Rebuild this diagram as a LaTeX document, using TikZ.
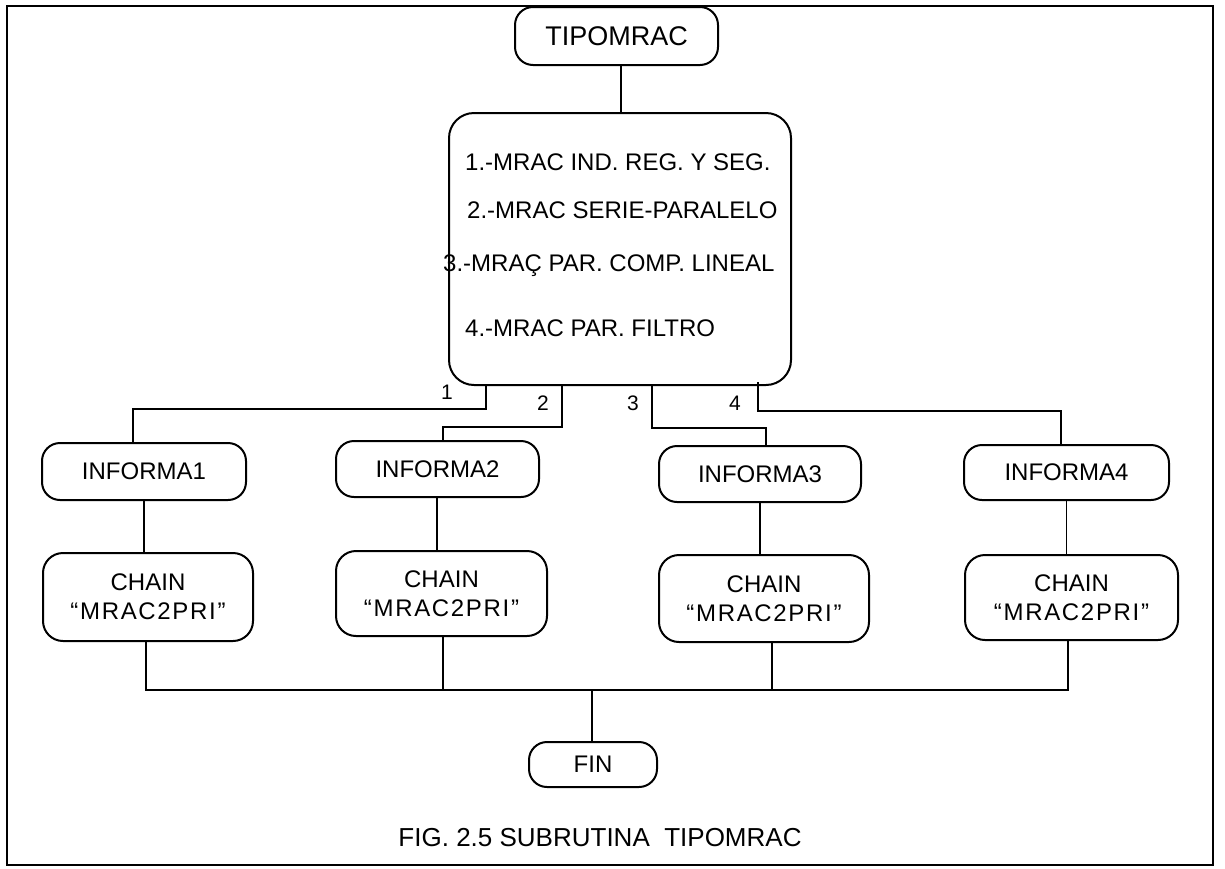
\documentclass[tikz,border=0pt]{standalone}
\usepackage{fontspec}
\setmainfont{Liberation Sans}
\newfontfamily\spacedfont[LetterSpace=7]{Liberation Sans}
\begin{document}
\begin{tikzpicture}[x=1pt,y=-1pt,
  box/.style={draw,line width=2pt,rounded corners=#1,inner sep=0pt,align=center},
  box/.default=18pt,
  link/.style={line width=1.6pt},
  lbl/.style={inner sep=0pt,font=\fontsize{21}{25}\selectfont},
  item/.style={anchor=base west,inner sep=0pt,font=\fontsize{24}{28}\selectfont},
  txt/.style={font=\fontsize{24}{29}\selectfont}]
\useasboundingbox (0,0) rectangle (1225,868);

% outer frame
\draw[line width=2.6pt] (7,6) rectangle (1213,865);

% top node and menu
\node[box,minimum width=203pt,minimum height=58pt,font=\fontsize{27}{32}\selectfont]
  (tip) at (616.5,36) {TIPOMRAC};
\node[box=25pt,minimum width=342pt,minimum height=272pt] (menu) at (620,249) {};
\node[item] (m1) at (465,170) {1.-MRAC IND. REG. Y SEG.};
\node[item] (m2) at (467,218.5) {2.-MRAC SERIE-PARALELO};
\node[item] (m3) at (443,271.5) {3.-MRAÇ PAR. COMP. LINEAL};
\node[item] (m4) at (465,336.5) {4.-MRAC PAR. FILTRO};

% report nodes
\node[box,txt,minimum width=204pt,minimum height=57pt] (i1) at (144,471.5) {INFORMA1};
\node[box,txt,minimum width=203pt,minimum height=56pt] (i2) at (437.5,469) {INFORMA2};
\node[box,txt,minimum width=202pt,minimum height=56pt] (i3) at (760,474) {INFORMA3};
\node[box,txt,minimum width=205pt,minimum height=55pt] (i4) at (1066.5,472.5) {INFORMA4};

% chain nodes
\node[box=20pt,txt,minimum width=210pt,minimum height=88pt] (c1) at (148,597) {CHAIN\\{\spacedfont “MRAC2PRI”}};
\node[box=20pt,txt,minimum width=211pt,minimum height=85pt] (c2) at (441.5,593.5) {CHAIN\\{\spacedfont “MRAC2PRI”}};
\node[box=20pt,txt,minimum width=210pt,minimum height=87pt] (c3) at (764,598.5) {CHAIN\\{\spacedfont “MRAC2PRI”}};
\node[box=20pt,txt,minimum width=213pt,minimum height=85pt] (c4) at (1071.5,597.5) {CHAIN\\{\spacedfont “MRAC2PRI”}};

% end node and caption
\node[box,txt,minimum width=128pt,minimum height=45pt] (fin) at (593,764.5) {FIN};
\node[inner sep=0pt,font=\fontsize{26}{30}\selectfont] (cap) at (600,838)
  {FIG. 2.5 SUBRUTINA\ \ TIPOMRAC};

% branch points
\coordinate (t0) at (621,0);
\coordinate (o1) at (486,385);
\coordinate (o2) at (562,385);
\coordinate (o3) at (652,385);
\coordinate (o4) at (758,382);
\coordinate (k1) at (133,409);
\coordinate (k2) at (443,427);
\coordinate (k3) at (766,428);
\coordinate (k4) at (1061,411);
\coordinate (bus) at (0,690);
\coordinate (f0) at (592,0);

% connectors
\draw[link] (tip.south -| t0) -- (menu.north -| t0);
\draw[link] (o1) |- (k1) -- (k1 |- i1.north);
\draw[link] (o2) |- (k2) -- (k2 |- i2.north);
\draw[link] (o3) |- (k3) -- (k3 |- i3.north);
\draw[link] (o4) |- (k4) -- (k4 |- i4.north);

\draw[link] (i1.south) -- (i1.south |- c1.north);
\draw[link] ([xshift=-0.5pt]i2.south) -- ([xshift=-0.5pt]i2.south |- c2.north);
\draw[link] (i3.south) -- (i3.south |- c3.north);
\draw[link] (i4.south) -- (i4.south |- c4.north);

\draw[link] ([xshift=-2pt]c1.south) |- ([xshift=-3.5pt]c4.south |- bus) -- ([xshift=-3.5pt]c4.south);
\draw[link] ([xshift=1.5pt]c2.south) -- ([xshift=1.5pt]c2.south |- bus);
\draw[link] ([xshift=8pt]c3.south) -- ([xshift=8pt]c3.south |- bus);
\draw[link] (f0 |- bus) -- (fin.north -| f0);

% branch numbers
\node[lbl] (n1) at (447,392) {1};
\node[lbl] (n2) at (543,403) {2};
\node[lbl] (n3) at (633,403) {3};
\node[lbl] (n4) at (735,403) {4};
\end{tikzpicture}
\end{document}
